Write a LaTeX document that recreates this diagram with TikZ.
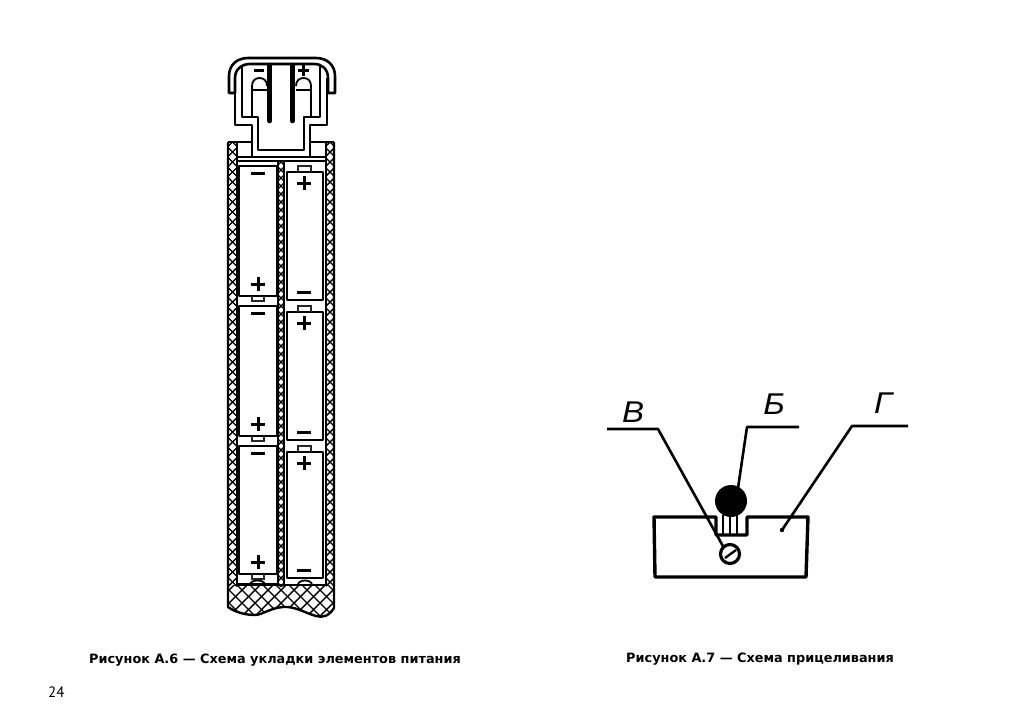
\documentclass[tikz,border=0pt]{standalone}
\usepackage{fontspec}
\setmainfont{Liberation Sans}
\newfontfamily\capfont{DejaVu Sans}
\newfontfamily\pagefont{PT Sans}
\begin{document}
\begin{tikzpicture}[x=1pt,y=-1pt,
  ln/.style={line width=1.8pt,black,line join=round},
  thin ln/.style={line width=1.1pt,black!85},
  heavy/.style={line width=2.8pt,black,line join=round},
  sign/.style={line width=3pt,black},
  hatchline/.style={line width=1.4pt,black},
  leader/.style={line width=2.6pt,black,line join=round},
  handlabel/.style={font=\fontsize{30}{30}\selectfont\itshape,inner sep=0pt,anchor=center,xscale=1.1},
  caption text/.style={font=\capfont\bfseries\fontsize{12.85}{14}\selectfont,inner sep=0pt,anchor=west}]
\useasboundingbox (0,0) rectangle (1024,726);
\fill[white] (0,0) rectangle (1024,726);
% hatched bottom of the casing
\begin{scope}
\clip (228,585) -- (334,585) -- (334,608)
  .. controls (329,616) and (323,618) .. (316,616) .. controls (305,613) and (295,606) .. (283,607)
  .. controls (270,608) and (262,615) .. (255,615) .. controls (245,615) and (235,612) .. (228,607) -- cycle;
\foreach \i in {-20,...,20} {
  \draw[hatchline] (281+\i*13,590) -- ++(60,60);
  \draw[hatchline] (281+\i*13,590) -- ++(-60,60);
  \draw[hatchline] (281+\i*13,590) -- ++(-60,-60);
  \draw[hatchline] (281+\i*13,590) -- ++(60,-60);
}
\end{scope}
% hatched walls
\foreach \xa/\xb/\ya/\per in {228/237/142/10,326/334/142/10,278/284/162/8} {
  \begin{scope}
  \clip (\xa,\ya) rectangle (\xb,586);
  \pgfmathsetmacro{\cx}{(\xa+\xb)/2}
  \foreach \i in {0,...,56} {
    \draw[hatchline] (\cx-10,\ya+\i*\per-10) -- (\cx+10,\ya+\i*\per+10);
    \draw[hatchline] (\cx+10,\ya+\i*\per-10) -- (\cx-10,\ya+\i*\per+10);
  }
  \end{scope}
}
% casing outline
\draw[ln,line width=2.4pt] (228,142) -- (228,607) .. controls (235,612) and (245,615) .. (255,615)
  .. controls (262,615) and (270,608) .. (283,607) .. controls (295,606) and (305,613) .. (316,616)
  .. controls (323,618) and (329,616) .. (334,608) -- (334,142);
\draw[ln] (228,142) -- (252,142);
\draw[ln] (310,142) -- (334,142);
\draw[ln] (237,142) -- (237,585) -- (326,585) -- (326,142);
\draw[ln] (278,161) -- (278,585);
\draw[ln] (284,161) -- (284,585);
\draw[ln] (237,157) -- (326,157);
\draw[ln] (237,161) -- (326,161);
% cap
\draw[ln,line width=2.6pt] (229,93) -- (229,76) .. controls (229,65) and (237,58) .. (248,58) -- (316,58)
  .. controls (327,58) and (335,65) .. (335,76) -- (335,93) -- (328,93) -- (328,78)
  .. controls (328,69) and (322,64) .. (314,64) -- (250,64) .. controls (242,64) and (235,69) .. (235,78)
  -- (235,93) -- cycle;
\draw[ln,line width=2.3pt] (235,78) -- (235,125) -- (252,125) -- (252,157);
\draw[ln,line width=2.3pt] (327,78) -- (327,125) -- (310,125) -- (310,157);
\draw[ln,line width=2.3pt] (242,66) -- (242,117) -- (258,117) -- (258,150) -- (304,150) -- (304,117) -- (320,117) -- (320,66);
% contacts
\draw[line width=4.6pt,line cap=round] (269.5,65) -- (269.5,121);
\draw[line width=4.6pt,line cap=round] (292.5,65) -- (292.5,121);
\draw[ln] (252,117) -- (252,86) .. controls (252,81) and (255,78) .. (259.5,78) .. controls (264,78) and (267,81) .. (267,86);
\draw[ln] (252,90) -- (267,90);
\draw[ln] (311,117) -- (311,86) .. controls (311,81) and (308,78) .. (303.5,78) .. controls (299,78) and (296,81) .. (296,86);
\draw[ln] (296,90) -- (311,90);
\draw[sign] (254,70) -- (264,70);
\draw[sign] (298,70) -- (309,70) (303.5,64.5) -- (303.5,75.5);
% left cells
\foreach \t/\b in {166/296,306/436,446/574} {
  \draw[ln,fill=white] (239,\t) rectangle (277,\b);
  \draw[thin ln] (252,\b) -- (252,\b+5) -- (264,\b+5) -- (264,\b);
  \draw[sign] (251,\t+7) -- (265,\t+7);
  \draw[sign] (251,\b-12) -- (265,\b-12) (258,\b-19) -- (258,\b-5);
}
\draw[ln] (237,584) -- (278,584);
% right cells
\foreach \t/\b in {172/300,312/440,452/578} {
  \draw[ln,fill=white] (287,\t) rectangle (323,\b);
  \draw[thin ln] (298,\t) -- (298,\t-6) -- (311,\t-6) -- (311,\t);
  \draw[sign] (297,\t+11) -- (311,\t+11) (304,\t+4) -- (304,\t+18);
  \draw[sign] (297,\b-8) -- (311,\b-8);
}
% battery contact bumps at the bottom
\draw[ln] (250,585) .. controls (250,579) and (265,579) .. (265,585);
\draw[ln] (298,585) .. controls (298,579) and (312,579) .. (312,585);
% figure A.7
\coordinate (vEnd) at (607,429); \coordinate (vKnee) at (658,429); \coordinate (vTip) at (724,548);
\coordinate (bEnd) at (799,427); \coordinate (bKnee) at (747,427); \coordinate (bTip) at (738,488);
\coordinate (gEnd) at (908,426); \coordinate (gKnee) at (852,426); \coordinate (gTip) at (782,530);
\draw[heavy,line width=3.4pt] (654,517) -- (716,517) -- (716,535) -- (747,535) -- (747,517) -- (808,517) -- (806,577) -- (655,577) -- cycle;
\draw[ln] (723,515) -- (723,534) (730,515) -- (730,534) (737,515) -- (737,534);
\fill (731,501) circle (16);
\draw[heavy,line width=3.2pt] (730,554) circle (9.5);
\draw[line width=2.4pt] (725,558) -- (736,550);
\draw[leader] (vEnd) -- (vKnee) -- (vTip);
\draw[leader] (bEnd) -- (bKnee) -- (bTip);
\draw[leader] (gEnd) -- (gKnee) -- (gTip);
\fill (gTip) circle (2.2);
\node[handlabel] (lblV) at (633,412) {В};
\node[handlabel] (lblB) at (774,404) {Б};
\node[handlabel] (lblG) at (883,403) {Г};
% captions
\node[caption text] (capA) at (89,660) {Рисунок А.6 — Схема укладки элементов питания};
\node[caption text] (capB) at (626,659) {Рисунок А.7 — Схема прицеливания};
\node[font=\pagefont\fontsize{15}{16}\selectfont,inner sep=0pt,anchor=west] (pageNo) at (48,692) {24};
\end{tikzpicture}
\end{document}
